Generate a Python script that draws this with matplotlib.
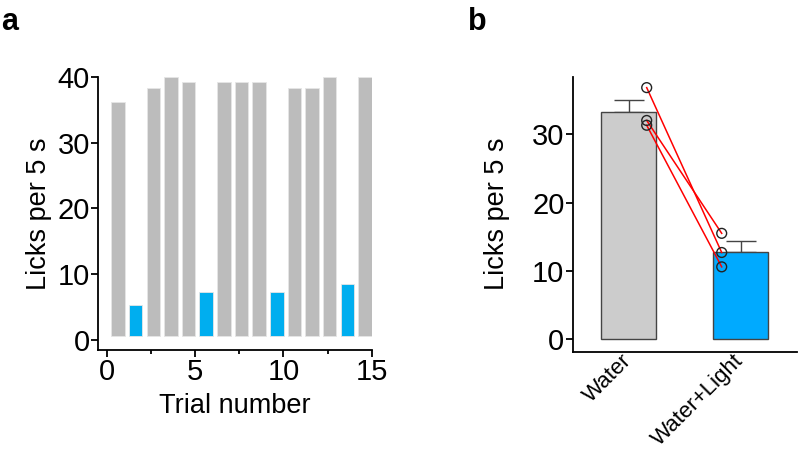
import numpy as np
import matplotlib
matplotlib.use('Agg')
import matplotlib.pyplot as plt

plt.rcParams['font.family'] = ['Liberation Sans', 'DejaVu Sans']

# panel a: licks per trial
trial_pos = [0.62, 1.62, 2.62, 3.62, 4.62, 5.62, 6.62, 7.62, 8.62, 9.62, 10.62, 11.62, 12.62, 13.62, 14.62]
trial_licks = [35.8, 4.8, 37.8, 39.5, 38.8, 6.8, 38.8, 38.8, 38.8, 6.8, 37.8, 37.8, 39.5, 7.9, 39.5]
trial_light = [0, 1, 0, 0, 0, 1, 0, 0, 0, 1, 0, 0, 0, 1, 0]
bar_base = 0.5

# panel b: group means
groups = ['Water', 'Water+Light']
group_mean = [33.2, 12.7]
group_sem = [1.8, 1.7]
water_pts = [36.8, 32.0, 31.3]
light_pts = [12.7, 15.5, 10.6]

grey_a = '#bcbcbc'
blue_a = '#00aeef'

fig = plt.figure(figsize=(8, 4.51), dpi=100)

# ---- panel a
ax1 = fig.add_axes([0.1229, 0.2239, 0.3417, 0.6047])
cols = [blue_a if l else grey_a for l in trial_light]
ax1.bar(trial_pos, trial_licks, width=0.77, bottom=bar_base, color=cols,
        edgecolor='#e6e6e6', linewidth=0.6)
ax1.set_xlim(-0.5, 15)
ax1.set_ylim(-1.6, 40)
ax1.set_xticks([0, 5, 10, 15])
ax1.set_xticks([2.5, 7.5, 12.5], minor=True)
ax1.set_yticks([0, 10, 20, 30, 40])
ax1.spines['top'].set_visible(False)
ax1.spines['right'].set_visible(False)
for s in ['left', 'bottom']:
    ax1.spines[s].set_linewidth(1.3)
ax1.tick_params(axis='both', which='major', labelsize=21, width=1.3, length=5, pad=1)
ax1.tick_params(axis='x', which='minor', width=1.3, length=3)
ax1.set_xlabel('Trial number', fontsize=19.5, labelpad=5)
ax1.set_ylabel('Licks per 5 s', fontsize=19.5, labelpad=4)

# ---- panel b
ax2 = fig.add_axes([0.716, 0.2202, 0.2799, 0.6098])
xpos = np.arange(len(groups))
ax2.bar(xpos, group_mean, width=0.49, color=['#cccccc', '#00aaff'],
        edgecolor='#444444', linewidth=1.0, zorder=2)
ax2.errorbar(xpos, group_mean, yerr=[[0, 0], group_sem], fmt='none',
             ecolor='#444444', elinewidth=1.0, capsize=11, capthick=1.0, zorder=1)
for w, l in zip(water_pts, light_pts):
    ax2.plot([0.16, 0.83], [w, l], color='red', lw=1.1, zorder=3)
ax2.scatter([0.16] * len(water_pts), water_pts, s=50, facecolors='none',
            edgecolors='#222222', linewidths=1.0, zorder=4)
ax2.scatter([0.83] * len(light_pts), light_pts, s=50, facecolors='none',
            edgecolors='#222222', linewidths=1.0, zorder=4)
ax2.set_xlim(-0.5, 1.5)
ax2.set_ylim(-1.8, 38.4)
ax2.set_yticks([0, 10, 20, 30])
ax2.set_xticks(xpos)
ax2.set_xticklabels(groups, rotation=45, ha='right', va='center', rotation_mode='anchor')
ax2.spines['top'].set_visible(False)
ax2.spines['right'].set_visible(False)
for s in ['left', 'bottom']:
    ax2.spines[s].set_linewidth(1.3)
ax2.tick_params(axis='y', labelsize=21, width=1.3, length=5, pad=1)
ax2.tick_params(axis='x', labelsize=16, length=0, pad=4)
ax2.set_ylabel('Licks per 5 s', fontsize=19.5, labelpad=16)

fig.text(0.002, 0.985, 'a', fontsize=22, fontweight='bold', va='top')
fig.text(0.585, 0.985, 'b', fontsize=22, fontweight='bold', va='top')

fig.savefig('out.png', dpi=100)
